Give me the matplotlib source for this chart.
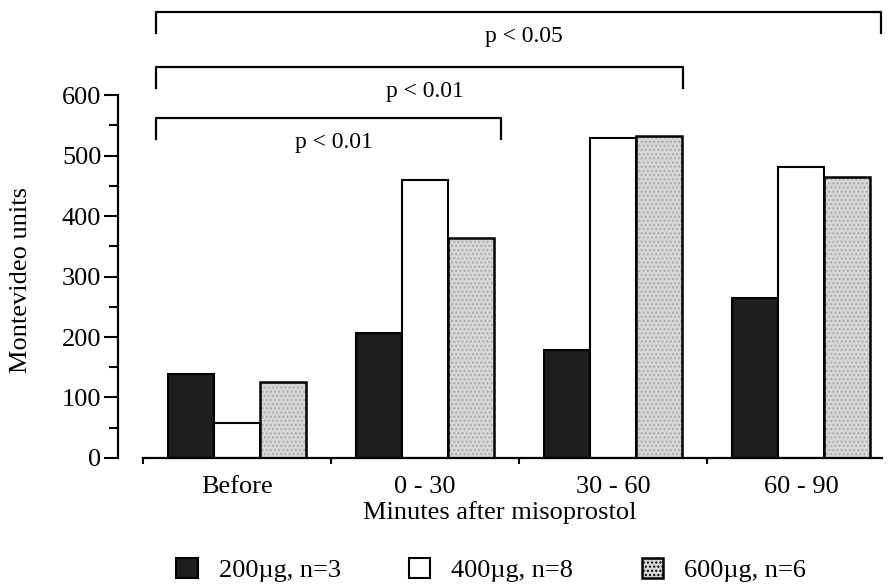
import numpy as np
from matplotlib import pyplot as plt
from matplotlib.patches import Patch

plt.rcParams['font.family'] = ['Liberation Serif', 'DejaVu Serif']

# Данные

periods = ['Before', '0 - 30', '30 - 60', '60 - 90']
dose_200 = [139, 207, 179, 264]
dose_400 = [58, 459, 529, 481]
dose_600 = [126, 363, 532, 465]
series_labels = ['200\u00b5g, n=3', '400\u00b5g, n=8', '600\u00b5g, n=6']

# Скобки значимости: (начало, конец, уровень, текст)
bracket_from = [-0.43, -0.43, -0.43]
bracket_to = [3.425, 2.37, 1.405]
bracket_level = [737, 646, 562]
bracket_text = ['p < 0.05', 'p < 0.01', 'p < 0.01']

fig = plt.figure(figsize=(8.9, 5.88), dpi=100)
ax = fig.add_axes([0.1326, 0.2211, 0.8584, 0.6173])

x = np.arange(len(periods))
w = 0.245

ax.bar(x - w, dose_200, w, color='#1e1e1e', edgecolor='black', linewidth=1.5)
ax.bar(x, dose_400, w, color='white', edgecolor='black', linewidth=1.5)
ax.bar(x + w, dose_600, w, color='#d6d6d6', edgecolor='#aaaaaa', linewidth=0, hatch='....')
ax.bar(x + w, dose_600, w, color='none', edgecolor='black', linewidth=1.8)

ax.set_xlim(-0.633, 3.431)
ax.set_ylim(0, 600)

ax.spines['top'].set_visible(False)
ax.spines['right'].set_visible(False)
ax.spines['left'].set_linewidth(1.6)
ax.spines['bottom'].set_linewidth(1.6)
ax.spines['left'].set_bounds(0, 600)
ax.spines['bottom'].set_bounds(-0.5, 3.431)

ax.set_yticks(np.arange(0, 601, 100))
ax.set_yticks(np.arange(50, 600, 100), minor=True)
ax.tick_params(axis='y', which='major', length=10, width=1.5, labelsize=19, pad=2)
ax.tick_params(axis='y', which='minor', length=6.5, width=1.5)

ax.set_xticks(x)
ax.set_xticklabels(periods)
ax.set_xticks(np.arange(-0.5, 3, 1), minor=True)
ax.tick_params(axis='x', which='major', length=0, labelsize=19, pad=13)
ax.tick_params(axis='x', which='minor', length=4, width=1.5)

ax.set_xlabel('Minutes after misoprostol', fontsize=19, labelpad=2)
ax.set_ylabel('Montevideo units', fontsize=19)
ax.yaxis.set_label_coords(-0.112, 0.49)

# Скобки
for x0, x1, lvl, txt in zip(bracket_from, bracket_to, bracket_level, bracket_text):
    ax.plot([x0, x0, x1, x1], [lvl - 35, lvl, lvl, lvl - 35], color='black',
            linewidth=1.6, clip_on=False)
    ax.text((x0 + x1) / 2 + 0.03, lvl - 40, txt, ha='center', va='center', fontsize=17)

# Легенда
handles = [
    Patch(facecolor='#1e1e1e', edgecolor='black', linewidth=1.5),
    Patch(facecolor='white', edgecolor='black', linewidth=1.5),
    Patch(facecolor='#d6d6d6', edgecolor='black', linewidth=1.8, hatch='....'),
]
fig.legend(handles, series_labels, loc='center', bbox_to_anchor=(0.552, 0.03),
           ncol=3, frameon=False, fontsize=19, handlelength=0.8, handleheight=0.8,
           handletextpad=0.8, columnspacing=2.6)

plt.savefig('out.png')
